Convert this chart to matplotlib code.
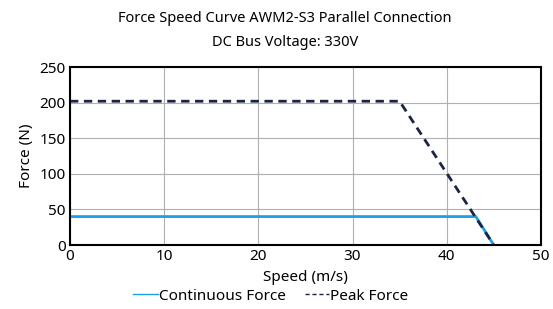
import matplotlib
matplotlib.use("Agg")
import matplotlib.pyplot as plt

plt.rcParams['font.family'] = ['Noto Sans', 'DejaVu Sans']

# data
cont_speed = [0, 43.1, 45]
cont_force = [40, 40, 0]
peak_speed = [0, 35, 45]
peak_force = [202, 202, 0]

fig = plt.figure(figsize=(5.53, 3.09), dpi=100)
ax = fig.add_axes([0.1266, 0.207, 0.8514, 0.576])

ax.plot(cont_speed, cont_force, color='#1ba1e2', lw=2, label='Continuous Force')
ax.plot(peak_speed, peak_force, color='#1c2444', lw=2, ls=(0, (3, 2)), label='Peak Force')

ax.set_xlim(0, 50)
ax.set_ylim(0, 250)
ax.set_xticks([0, 10, 20, 30, 40, 50])
ax.set_yticks([0, 50, 100, 150, 200, 250])
ax.grid(True, color='#b0b0b0', lw=0.8)
ax.set_axisbelow(True)
for s in ax.spines.values():
    s.set_linewidth(1.5)
    s.set_color('black')
ax.tick_params(length=0, labelsize=11, pad=3)

ax.set_xlabel('Speed (m/s)', fontsize=11, labelpad=4)
ax.set_ylabel('Force (N)', fontsize=11, labelpad=4)
ax.set_title('Force Speed Curve AWM2-S3 Parallel Connection\nDC Bus Voltage: 330V',
             fontsize=10.5, pad=15, linespacing=1.8, x=0.457)

handles, labels = ax.get_legend_handles_labels()
leg = fig.legend(handles, labels, loc='center', bbox_to_anchor=(0.49, 0.042), ncol=2,
                 frameon=False, fontsize=11, handlelength=1.6, handletextpad=0.1,
                 columnspacing=1.2, borderaxespad=0)
for h in leg.get_lines():
    h.set_linewidth(1)

fig.savefig('out.png', dpi=100)
